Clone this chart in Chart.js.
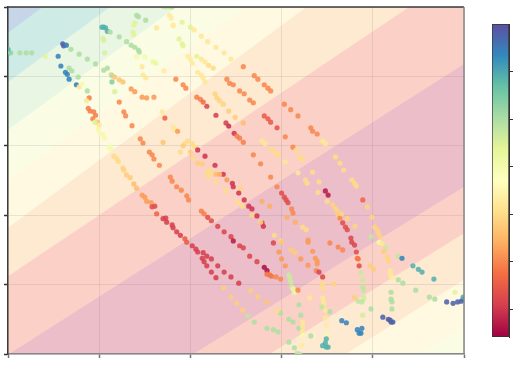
<!DOCTYPE html>
<html><head><meta charset="utf-8">
<script src="https://cdn.jsdelivr.net/npm/chart.js@4/dist/chart.umd.min.js"></script>
<style>
html,body{margin:0;padding:0;background:#fff;}
#wrap{position:relative;width:514px;height:366px;}
canvas{position:absolute;left:0;top:0;}
</style></head><body>
<div id="wrap"><canvas id="main" width="514" height="366"></canvas><canvas id="cbar" width="514" height="366"></canvas></div>
<script>
// ---------- data ----------
const xTicks = [0, 10, 20, 30, 40, 50];
const yTicks = [0, 10, 20, 30, 40, 50];
const colorTicks = [10, 20, 30, 40, 50, 60];
const colorMin = 4.13, colorMax = 70.1;

// contour band boundaries (value of y at x=0 and at x=50), top-left to bottom-right
const boundaryAtLeft  = [46.3, 39.2, 32.3, 25.1, 18.2, 11.2, -0.1, -16.5, -23.4, -30.5, -37.1];
const boundaryAtRight = [94.9, 87.5, 80.2, 73.0, 66.8, 55.3, 41.8, 24.1, 17.4, 10.7, 3.9];
// contour level index (of 8) for each band between boundaries
const bandLevel = [7, 6, 5, 4, 3, 2, 1, 0, 1, 2, 3, 4];

// points: [x, y, value]
const trackWest = [[0,43.9,59],[0.1,43.4,59],[0.3,43.4,52],[1.3,43.4,50],[2.0,43.4,50],[2.6,43.4,50],[4.1,42.9,44],[5.5,42.9,64],[5.8,41.5,64],[6.0,44.7,68],[6.1,44.4,68],[6.4,44.5,65],[6.9,43.9,50],[7.8,43.2,50],[8.7,42.5,50],[9.6,41.8,50],[10.5,40.9,50],[10.9,41.2,50],[6.3,40.6,64],[6.5,40.3,64],[6.7,39.6,64],[6.7,41.2,50],[7.0,40.8,50],[7.5,38.8,65],[7.8,38.5,32],[7.7,39.9,50],[8.1,38.9,40],[8.7,37.9,50],[8.9,36.9,19],[8.6,36.5,32],[8.8,35.4,19],[9.0,35.0,19],[9.4,34.9,19],[9.6,34.4,19],[9.3,33.9,19],[9.8,33.4,26],[9.5,33.4,44],[10.0,33.0,32],[9.9,32.4,40],[10.1,31.8,40],[10.4,31.6,40],[10.6,31.1,40],[11.1,29.8,40],[11.3,29.5,40],[11.6,28.5,30],[11.95,28.1,30],[12.1,27.7,30],[12.6,26.8,29],[12.7,26.5,29],[13.0,25.8,28],[13.4,25.4,28],[13.8,24.5,26],[14.1,23.9,26],[14.7,22.9,22],[15.0,22.6,22],[15.2,22.0,22],[15.7,21.8,22],[15.8,21.2,13],[16.1,21.3,13],[16.3,20.2,16],[17.0,19.5,11],[17.3,19.6,11],[17.4,19.0,11],[18.0,18.6,11],[18.1,18.2,11],[18.5,17.6,11],[18.9,17.1,11],[19.4,16.6,15],[19.6,16.1,15],[20.2,15.6,11],[20.6,15.1,11],[20.8,14.7,11],[21.4,14.6,11],[21.8,14.1,11],[22.3,13.7,11],[21.3,13.8,11],[21.5,13.3,11],[21.8,12.7,11],[23.0,12.7,11],[22.3,11.8,11],[23.7,11.8,11],[22.8,11.0,11],[24.45,11.1,11],[25.3,10.2,11]];

const trackNorth = [[10.3,47.1,59],[10.5,47.1,59],[10.7,47.0,59],[10.9,46.5,59],[11.2,46.4,50],[12.2,45.7,50],[13.0,45.0,50],[13.5,44.5,50],[13.9,44.2,50],[14.3,43.8,50],[14.4,43.5,50],[14.1,42.8,40],[15.0,42.8,40],[15.9,42.1,42],[16.2,41.9,42],[17.1,40.8,33],[10.4,45.5,45],[10.5,45.2,45],[10.6,43.4,45],[11.3,40.3,30],[11.4,40.1,50],[11.4,39.2,54],[11.7,39.9,27],[12.2,39.5,27],[12.6,39.2,27],[11.7,37.8,45],[13.5,38.2,22],[13.9,37.8,22],[14.7,37.0,22],[15.2,36.9,22],[16.0,37.0,22],[12.2,36.3,20],[12.7,34.9,20],[12.9,34.3,20],[13.6,32.9,20],[14.8,40.2,32],[15.1,39.8,32],[14.7,41.4,32],[16.3,47.0,32],[18.4,39.6,20],[18.1,47.4,32],[14.1,48.8,50],[14.3,48.6,50],[15.1,48.1,50],[13.9,47.7,44],[13.8,47.4,44],[13.7,46.4,44],[13.8,46.0,44],[17.0,50.1,47],[17.3,50.0,47],[17.5,50.1,47],[17.8,50.0,47],[18.0,50.0,48],[17.7,48.8,33],[17.9,48.4,33],[18.1,47.3,33],[16.9,34.9,32],[17.2,34.0,16],[18.1,32.7,32],[18.3,32.3,32],[18.6,32.1,22],[19.1,47.8,44],[20.0,47.1,44],[20.4,46.7,32],[21.2,45.8,32],[21.9,45.0,32],[22.8,44.2,32],[23.7,43.4,32],[24.45,42.5,32],[18.75,45.4,44],[19.1,44.7,44],[19.2,44.4,44],[19.7,42.9,33],[20.0,42.5,33],[20.2,41.9,33],[20.7,42.9,44],[21.2,42.5,32],[21.6,42.1,32],[22.0,41.6,30],[22.5,41.2,30],[20.8,40.6,32],[21.2,40.2,32],[21.4,39.8,32],[21.6,39.2,32],[19.2,38.8,20],[19.5,38.3,20],[20.7,37.0,19],[21.1,36.7,19],[21.4,36.3,17],[21.8,35.7,12],[22.7,37.5,29],[22.9,36.9,29],[23.2,36.5,29],[23.6,36.0,29],[24.2,35.0,28],[24.9,34.1,28],[25.8,33.3,26],[22.8,34.4,11],[23.9,33.3,11],[24.2,32.85,9],[24.0,39.6,20],[24.3,39.0,20],[24.7,38.8,20],[25.4,37.9,20],[25.9,37.5,20],[26.5,36.6,20],[26.9,36.2,20],[25.8,41.4,20],[27.0,40.1,20],[27.4,39.6,20],[28.1,38.8,20],[28.5,38.3,20],[28.8,37.9,20],[28.1,34.3,15],[28.5,33.9,15],[28.8,33.4,15],[29.5,32.6,14],[30.3,36.0,20],[31.0,35.2,20],[31.8,34.3,20],[33.2,32.6,20]];

const trackCentral = [[14.5,31.0,20],[14.8,30.4,20],[15.5,29.1,20],[15.8,28.7,20],[16.0,28.1,20],[16.6,27.2,20],[17.0,30.5,27],[18.9,29.1,30],[17.8,25.5,20],[18.0,24.9,20],[18.5,24.1,20],[19.0,23.6,20],[19.6,22.8,20],[19.8,22.2,20],[21.2,20.6,19],[21.5,20.2,19],[21.9,19.7,13],[22.3,19.2,13],[23.0,18.4,12],[23.7,17.6,12],[24.45,16.9,12],[24.7,16.3,7],[25.4,15.6,12],[25.8,15.3,12],[24.8,31.8,10],[25.1,31.4,19],[25.4,31.1,19],[25.8,30.5,19],[30.4,31.3,20],[33.4,32.1,20],[33.9,31.7,20],[27.85,30.7,32],[28.2,30.3,32],[28.9,29.4,30],[29.3,29.0,30],[29.6,28.7,30],[30.4,27.7,32],[31.25,29.8,20],[31.6,29.4,30],[32.0,28.4,30],[32.3,28.0,30],[34.5,30.7,32],[34.8,30.3,32],[19.7,30.7,30],[19.4,30.3,30],[19.2,30.0,28],[20.2,30.3,30],[20.5,29.8,30],[20.0,29.1,28],[20.8,29.4,10],[21.6,28.5,10],[20.3,28.2,30],[20.8,27.5,28],[21.3,27.4,28],[22.7,27.2,10],[26.9,28.7,20],[27.7,27.4,20],[22.1,26.5,30],[22.5,26.1,30],[22.8,25.9,26],[21.8,26.2,30],[22.0,25.6,30],[23.6,25.9,10],[23.2,25.9,24],[24.0,25.1,22],[22.8,24.8,30],[24.6,24.6,10],[24.7,24.1,10],[25.5,23.9,29],[25.3,23.2,10],[25.9,22.2,10],[23.9,23.5,30],[25.2,21.9,30],[25.7,21.3,30],[26.4,21.3,10],[26.75,20.9,10],[26.75,20.0,29],[27.3,19.9,10],[27.85,18.9,10],[28.0,18.4,10],[27.7,19.0,29],[28.8,25.5,20],[29.5,24.1,20],[30.0,23.2,13],[30.3,22.6,13],[30.5,22.2,13],[30.7,21.8,13],[27.85,22.0,24],[28.7,21.3,24],[31.1,20.9,20],[31.25,20.3,20],[30.6,19.7,24],[31.5,19.0,24],[31.8,26.1,32],[32.6,25.1,30],[32.8,24.6,30],[33.4,26.2,30],[34.1,24.8,30],[34.0,23.3,30],[34.8,23.5,7],[35.1,22.9,7],[35.0,22.0,30],[35.6,21.5,29],[35.9,21.0,29],[36.1,20.6,29],[36.2,20.0,28],[36.4,19.6,20],[36.7,18.9,13],[37.0,18.3,13],[37.2,17.9,13],[35.9,28.4,30],[36.4,27.5,30],[36.8,26.5,30],[32.3,18.3,30],[32.7,17.9,30],[32.9,16.4,22],[29.2,17.1,30],[29.9,16.3,29],[29.1,16.0,12],[35.3,16.0,20],[36.2,15.4,20],[36.7,15.0,20]];

const trackEast = [[37.7,25.1,30],[38.0,24.6,30],[38.2,24.2,30],[38.9,22.2,16],[39.4,21.2,29],[39.9,19.7,29],[36.6,20.2,29],[37.2,19.5,29],[38.05,18.4,29],[37.6,16.7,12],[37.7,16.1,12],[38.0,15.7,12],[40.2,18.3,29],[40.5,17.9,29],[40.6,17.4,29],[40.8,16.9,29],[39.8,16.9,48],[40.7,16.1,40],[41.0,15.9,32],[41.4,15.3,47]];

const trackSouth = [[26.5,14.1,12],[27.3,13.3,12],[28.1,12.5,6],[28.4,12.0,6],[28.4,11.5,18],[28.7,11.4,18],[28.9,11.2,18],[29.4,11.1,20],[29.9,10.8,20],[30.0,16.1,27],[29.7,14.7,22],[30.0,13.7,22],[30.4,12.7,22],[31.0,15.0,28],[31.5,14.6,28],[32.1,13.7,22],[32.9,12.8,22],[32.9,16.1,22],[33.4,14.8,22],[33.7,13.8,22],[33.9,13.4,22],[33.9,13.0,22],[33.8,12.0,20],[34.1,11.8,12],[34.5,11.1,12],[30.8,11.4,47],[30.9,11.0,47],[31.0,10.4,47],[31.1,9.7,47],[31.25,9.4,42],[31.4,8.9,42],[31.8,9.2,20],[34.5,10.2,30],[34.5,9.5,30],[35.7,10.1,29],[23.6,9.5,28],[24.45,8.2,28],[25.1,7.3,28],[25.7,6.3,28],[26.6,9.1,28],[27.4,8.2,28],[28.4,7.5,27],[26.3,5.5,48],[27.0,4.6,50],[28.4,3.7,50],[29.1,3.5,50],[29.6,3.2,50],[29.9,5.9,50],[29.5,6.2,30],[30.8,5.0,50],[31.25,4.6,50],[31.9,7.1,50],[32.1,5.6,50],[31.9,3.7,50],[32.3,4.6,32],[32.3,4.0,32],[32.3,3.3,32],[32.3,2.7,40],[33.1,8.1,32],[33.2,2.6,50],[32.2,1.3,33],[30.8,1.7,50],[31.4,0.9,50],[31.7,0.1,48],[32.0,0.0,48],[34.5,8.1,32],[34.6,7.6,32],[34.6,7.1,32],[34.8,6.3,32],[34.4,6.8,48],[35.3,6.1,50],[34.8,5.2,32],[34.9,4.2,33],[35.0,2.7,40],[34.9,2.2,59],[34.8,1.6,59],[34.5,1.2,59],[34.9,1.0,59],[35.1,1.0,59],[36.6,4.8,64],[37.1,4.5,64]];

const trackSoutheast = [[38.2,14.7,13],[38.3,13.8,18],[38.4,13.7,18],[38.5,12.7,13],[39.7,12.7,28],[40.1,12.2,28],[38.7,11.7,47],[38.9,10.7,47],[38.9,9.7,48],[39.0,9.2,48],[39.0,8.2,46],[39.0,7.9,46],[38.8,7.5,48],[38.4,7.6,48],[38.0,8.1,28],[38.9,5.6,46],[39.8,6.5,50],[41.2,14.8,28],[41.6,14.0,29],[41.7,13.4,29],[41.9,12.0,32],[41.9,11.7,32],[42.0,11.1,32],[42.2,11.0,33],[42.8,14.1,48],[43.2,13.8,64],[42.8,10.7,50],[43.3,10.2,50],[42.0,8.9,50],[42.0,7.9,50],[42.1,7.5,50],[42.1,6.5,50],[44.4,12.7,59],[45.0,12.2,59],[45.4,11.8,59],[44.7,9.2,50],[46.7,10.8,59],[46.2,8.2,50],[46.8,7.9,50],[49.0,8.9,44],[48.1,7.5,68],[48.8,7.3,68],[49.3,7.5,68],[49.7,7.6,68],[49.9,7.9,68],[49.9,8.2,59],[41.1,5.3,68],[41.7,5.0,68],[41.9,4.9,68],[42.0,4.6,68],[42.2,4.6,68],[38.3,3.5,64],[38.5,3.0,64],[38.7,3.0,64],[38.8,3.7,64]];

// ---------- colour helpers ----------
const SPECTRAL = [[158,1,66],[213,62,79],[244,109,67],[253,174,97],[254,224,139],[255,255,191],[230,245,152],[171,221,164],[102,194,165],[50,136,189],[94,79,162]];
function spectral(t) {
  t = Math.max(0, Math.min(1, t));
  const p = t * 10, i = Math.min(9, Math.floor(p)), f = p - i;
  const a = SPECTRAL[i], b = SPECTRAL[i + 1];
  return [0, 1, 2].map(k => a[k] + (b[k] - a[k]) * f);
}
function pointColor(v) {
  const c = spectral((v - colorMin) / (colorMax - colorMin));
  return `rgba(${c[0].toFixed(0)},${c[1].toFixed(0)},${c[2].toFixed(0)},0.88)`;
}
function bandColor(level) {
  const c = spectral((level + 0.5) / 8), al = 0.3;
  return `rgb(${c.map(v => Math.round(255 - al * (255 - v))).join(',')})`;
}

// ---------- plugins ----------
const bandsPlugin = {
  id: 'bands',
  beforeDraw(chart) {
    const { ctx, chartArea: a, scales: { x, y } } = chart;
    const x0 = xTicks[0], x1 = xTicks[xTicks.length - 1];
    const lineY = (i, xv) => boundaryAtLeft[i] + (boundaryAtRight[i] - boundaryAtLeft[i]) * (xv - x0) / (x1 - x0);
    ctx.save();
    ctx.beginPath();
    ctx.rect(a.left, a.top, a.right - a.left, a.bottom - a.top);
    ctx.clip();
    ctx.fillStyle = bandColor(bandLevel[0]);
    ctx.fillRect(a.left, a.top, a.right - a.left, a.bottom - a.top);
    const xa = x0 - 2, xb = x1 + 2;
    for (let i = 0; i < boundaryAtLeft.length; i++) {
      ctx.beginPath();
      ctx.moveTo(x.getPixelForValue(xa), y.getPixelForValue(lineY(i, xa)));
      ctx.lineTo(x.getPixelForValue(xb), y.getPixelForValue(lineY(i, xb)));
      ctx.lineTo(x.getPixelForValue(xb), a.bottom + 2000);
      ctx.lineTo(x.getPixelForValue(xa), a.bottom + 2000);
      ctx.closePath();
      ctx.fillStyle = bandColor(bandLevel[i + 1]);
      ctx.fill();
    }
    ctx.restore();
  }
};
const framePlugin = {
  id: 'frame',
  afterDatasetsDraw(chart) {
    const { ctx, chartArea: a } = chart;
    ctx.save();
    ctx.lineWidth = 1.5;
    ctx.strokeStyle = '#3a3a3a';
    ctx.beginPath(); ctx.moveTo(a.left, a.top); ctx.lineTo(a.right, a.top); ctx.stroke();
    ctx.strokeStyle = '#858585';
    ctx.beginPath(); ctx.moveTo(a.right, a.top); ctx.lineTo(a.right, a.bottom); ctx.stroke();
    ctx.restore();
  }
};

const allPoints = [].concat(trackWest, trackNorth, trackCentral, trackEast, trackSouth, trackSoutheast)
  .map(p => ({ x: p[0], y: p[1], v: p[2] }));

new Chart(document.getElementById('main'), {
  type: 'scatter',
  data: { datasets: [{
    data: allPoints,
    pointRadius: 2.6,
    pointBorderWidth: 0,
    pointBackgroundColor: ctx => pointColor(ctx.raw ? ctx.raw.v : 30),
    clip: 0
  }] },
  options: {
    responsive: false, animation: false,
    layout: { padding: { left: 4, right: 50, top: 7, bottom: 8 } },
    plugins: { legend: { display: false }, tooltip: { enabled: false } },
    scales: {
      x: {
        type: 'linear', min: xTicks[0], max: xTicks[xTicks.length - 1],
        afterBuildTicks: s => { s.ticks = xTicks.map(v => ({ value: v })); },
        ticks: { display: false },
        grid: { color: 'rgba(120,120,120,0.16)', lineWidth: 1, tickLength: 4, tickColor: '#777', tickWidth: 1.5 },
        border: { display: true, color: '#858585', width: 1.5 }
      },
      y: {
        type: 'linear', min: yTicks[0], max: yTicks[yTicks.length - 1],
        afterBuildTicks: s => { s.ticks = yTicks.map(v => ({ value: v })); },
        ticks: { display: false },
        grid: { color: 'rgba(120,120,120,0.16)', lineWidth: 1, tickLength: 4, tickColor: '#333', tickWidth: 1.5 },
        border: { display: true, color: '#3a3a3a', width: 1.5 }
      }
    }
  },
  plugins: [bandsPlugin, framePlugin]
});

// ---------- colour bar ----------
new Chart(document.getElementById('cbar'), {
  type: 'bar',
  data: { labels: [''], datasets: [{
    data: [[colorMin, colorMax]],
    backgroundColor: ctx => {
      const ch = ctx.chart, ys = ch.scales.y;
      if (!ch.chartArea || !ys) return '#999';
      const g = ch.ctx.createLinearGradient(0, ys.getPixelForValue(colorMin), 0, ys.getPixelForValue(colorMax));
      SPECTRAL.forEach((c, i) => g.addColorStop(i / 10, `rgb(${c.join(',')})`));
      return g;
    },
    borderColor: '#333', borderWidth: 1, borderSkipped: false,
    categoryPercentage: 1, barPercentage: 1
  }] },
  options: {
    responsive: false, animation: false,
    layout: { padding: { left: 492, right: 1, top: 24, bottom: 29 } },
    plugins: { legend: { display: false }, tooltip: { enabled: false } },
    scales: {
      x: { display: false },
      y: {
        position: 'right', min: colorMin, max: colorMax,
        afterBuildTicks: s => { s.ticks = colorTicks.map(v => ({ value: v })); },
        ticks: { display: false },
        grid: { display: true, drawOnChartArea: false, tickLength: 4, tickColor: '#333', tickWidth: 1 },
        border: { display: true, color: '#333', width: 1 }
      }
    }
  }
});
</script>
</body></html>
